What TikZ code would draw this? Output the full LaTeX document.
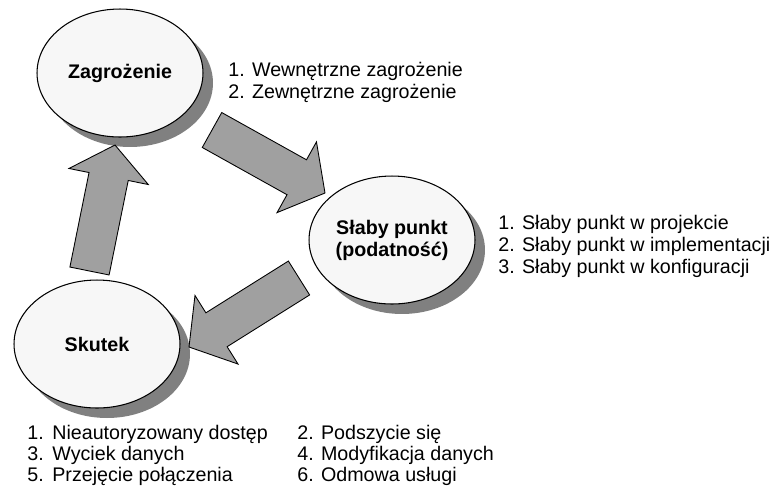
\documentclass[tikz,border=0pt]{standalone}
\usepackage{fontspec}
\setmainfont{Liberation Sans}
\usepackage{xcolor}
\usepackage{tikz}
\usetikzlibrary{calc,shapes.geometric}

\definecolor{bubblegray}{HTML}{F7F7F7}
\definecolor{shadegray}{HTML}{808080}
\definecolor{arrowgray}{HTML}{A0A0A0}

% block arrow from tail coordinate #1 to tip coordinate #2
\newcommand{\bigarrow}[2]{%
  \coordinate (#1n) at ($(#1)!0.75!(#2)$);
  \draw[blockarrow] ($(#1)!0.4cm!90:(#2)$) -- ($(#1n)!0.4cm!90:(#2)$)
    -- ($(#1n)!0.81cm!90:(#2)$) -- (#2) -- ($(#1n)!0.81cm!-90:(#2)$)
    -- ($(#1n)!0.4cm!-90:(#2)$) -- ($(#1)!0.4cm!-90:(#2)$) -- cycle;}

\begin{document}
\begin{tikzpicture}[
  x=0.02cm,y=-0.02cm,
  every node/.style={font=\fontsize{11.2pt}{12.5pt}\selectfont},
  bubble/.style={ellipse,draw=black,line width=0.6pt,fill=bubblegray,minimum width=3.32cm,minimum height=2.56cm,inner sep=0pt,align=center,
    font=\fontsize{11.2pt}{12.5pt}\selectfont\bfseries,
    preaction={fill=shadegray,transform canvas={shift={(0.2cm,-0.2cm)}}}},
  item/.style={anchor=base west,inner sep=0pt},
  blockarrow/.style={draw=black,line width=0.5pt,fill=arrowgray,line join=miter},
]
\useasboundingbox (0,0) rectangle (776,488);

\node[bubble] (zagr) at (120,73) {Zagrożenie};
\node[bubble] (slaby) at (392,240) {Słaby punkt\\(podatność)};
\node[bubble] (skutek) at (97,344) {Skutek};

% arrows
\coordinate (zs1) at (212,130);
\coordinate (zs2) at (325,193);
\coordinate (ss1) at (299,278);
\coordinate (ss2) at (189,347);
\coordinate (sz1) at (89.5,271);
\coordinate (sz2) at (115,145);
\bigarrow{zs1}{zs2}
\bigarrow{ss1}{ss2}
\bigarrow{sz1}{sz2}

% lists
\node[item] (z1) at (228,76) {1. Wewnętrzne zagrożenie};
\node[item] (z2) at (228,98) {2. Zewnętrzne zagrożenie};

\node[item] (s1) at (498,229) {1. Słaby punkt w projekcie};
\node[item] (s2) at (498,251) {2. Słaby punkt w implementacji};
\node[item] (s3) at (498,273) {3. Słaby punkt w konfiguracji};

\node[item] (k1) at (27,439) {\makebox[0.5cm][l]{1.}Nieautoryzowany dostęp};
\node[item] (k3) at (27,460) {\makebox[0.5cm][l]{3.}Wyciek danych};
\node[item] (k5) at (27,481) {\makebox[0.5cm][l]{5.}Przejęcie połączenia};
\node[item] (k2) at (297,439) {2. Podszycie się};
\node[item] (k4) at (297,460) {4. Modyfikacja danych};
\node[item] (k6) at (297,481) {6. Odmowa usługi};
\end{tikzpicture}
\end{document}
